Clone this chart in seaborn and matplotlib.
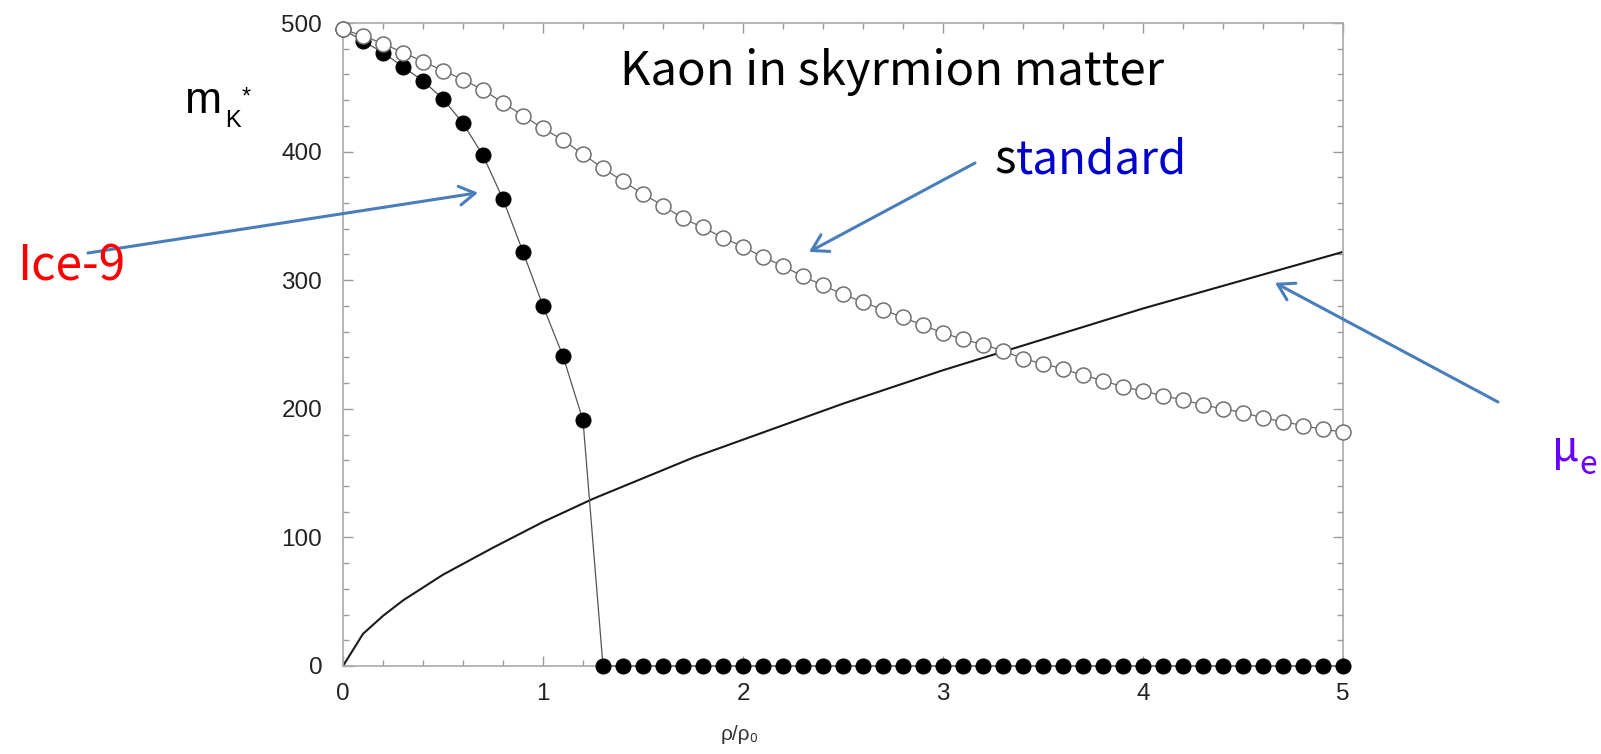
import matplotlib
matplotlib.use("Agg")
import matplotlib.pyplot as plt
from matplotlib.ticker import MultipleLocator
import seaborn as sns

# Figure size in pixels
W, H = 1601, 754

# Density grid rho/rho_0 of the two kaon mass curves
density = [
    0.0, 0.1, 0.2, 0.3, 0.4, 0.5, 0.6, 0.7, 0.8, 0.9,
    1.0, 1.1, 1.2, 1.3, 1.4, 1.5, 1.6, 1.7, 1.8, 1.9,
    2.0, 2.1, 2.2, 2.3, 2.4, 2.5, 2.6, 2.7, 2.8, 2.9,
    3.0, 3.1, 3.2, 3.3, 3.4, 3.5, 3.6, 3.7, 3.8, 3.9,
    4.0, 4.1, 4.2, 4.3, 4.4, 4.5, 4.6, 4.7, 4.8, 4.9,
    5.0,
]

# Kaon effective mass, "standard" skyrmion matter (open circles)
standard_mass = [
    495, 490, 484, 477, 470, 463, 456, 448, 438, 428,
    418, 409, 398, 387, 377, 367, 358, 348, 341, 333,
    326, 318, 311, 303, 296, 289, 283, 277, 271, 265,
    259, 254, 250, 245, 239, 235, 231, 226, 222, 217,
    214, 210, 207, 203, 200, 197, 193, 190, 187, 184,
    182,
]

# Kaon effective mass, "Ice-9" (filled circles), zero above rho ~ 1.3
ice9_mass = [
    495, 486, 477, 466, 455, 441, 422, 397, 363, 322,
    280, 241, 191,
] + [0] * 38

# Electron chemical potential mu_e
mu_e_density = [
    0.0, 0.1, 0.2, 0.3, 0.4, 0.5, 0.75, 1.0, 1.25, 1.5, 1.75, 2.0,
    2.25, 2.5, 2.75, 3.0, 3.25, 3.5, 3.75, 4.0, 4.25, 4.5, 4.75, 5.0,
]
mu_e_values = [
    0, 25, 39, 51, 61, 71, 92, 112, 130, 146, 162, 176,
    190, 204, 217, 230, 242, 254, 266, 278, 289, 300, 311, 322,
]

# Set seaborn plot style
sns.set_theme(style="ticks")
plt.rcParams["font.family"] = ["Liberation Sans", "DejaVu Sans"]

TEXT_FONT = ["Noto Sans CJK KR", "DejaVu Sans"]
ARROW_COLOR = "#4a7ebb"


def px(x, y):
    # Convert pixel position (origin top left) to figure fraction
    return x / W, 1 - y / H


def main():
    fig = plt.figure(figsize=(W / 100, H / 100), dpi=100)
    ax = fig.add_axes([343 / W, 1 - 666 / H, 1000 / W, 643 / H])

    # mu_e curve
    sns.lineplot(
        x=mu_e_density, y=mu_e_values, ax=ax,
        color="#1a1a1a", linewidth=1.5, zorder=2,
    )

    # Ice-9 kaon mass
    sns.lineplot(
        x=density, y=ice9_mass, ax=ax,
        color="#555555", linewidth=0.9, zorder=3,
        marker="o", markersize=10.8,
        markerfacecolor="black", markeredgecolor="black",
        clip_on=False,
    )

    # Standard kaon mass
    sns.lineplot(
        x=density, y=standard_mass, ax=ax,
        color="#666666", linewidth=0.9, zorder=4,
        marker="o", markersize=10.8,
        markerfacecolor="white", markeredgecolor="#707070",
        markeredgewidth=1.1, clip_on=False,
    )

    # Axes limits and ticks
    ax.set_xlim(0, 5)
    ax.set_ylim(0, 500)
    ax.xaxis.set_major_locator(MultipleLocator(1))
    ax.xaxis.set_minor_locator(MultipleLocator(0.2))
    ax.yaxis.set_major_locator(MultipleLocator(100))
    ax.yaxis.set_minor_locator(MultipleLocator(20))
    ax.tick_params(
        which="both", direction="in", top=True, right=True,
        color="#9a9a9a", width=1.0, labelcolor="#222222",
        labelsize=17.5,
    )
    ax.tick_params(which="major", length=7)
    ax.tick_params(which="minor", length=4.5)
    ax.tick_params(axis="y", pad=15)
    ax.tick_params(axis="x", pad=12)
    for spine in ax.spines.values():
        spine.set_color("#aaaaaa")
        spine.set_linewidth(1.2)

    ax.set_xlabel("ρ/ρ₀", fontsize=15, color="#333333")
    ax.xaxis.set_label_coords(0.397, -0.092)
    ax.set_ylabel("")

    # Axis label m_K^*
    m_text = fig.text(*px(185, 113), "m", fontsize=32, color="black",
                      va="baseline")
    k_text = ax.annotate("K", xy=(1, 0), xycoords=m_text, xytext=(2, -7),
                         textcoords="offset points", fontsize=17,
                         color="black", va="bottom", ha="left")
    ax.annotate("*", xy=(1, 1), xycoords=k_text, xytext=(1, 1),
                textcoords="offset points", fontsize=17,
                color="black", va="bottom", ha="left")

    # Title
    fig.text(*px(620, 85), "Kaon in skyrmion matter", fontsize=34,
             family=TEXT_FONT, color="black", va="baseline")

    # Ice-9 label
    fig.text(*px(17, 280), "Ice-9", fontsize=34.5, family=TEXT_FONT,
             color="#ff0000", va="baseline")

    # standard label: black "s" followed by blue "tandard"
    s_text = fig.text(*px(994, 173), "s", fontsize=33, family=TEXT_FONT,
                      color="black", va="baseline")
    ax.annotate("tandard", xy=(1, 0), xycoords=s_text, fontsize=33,
                family=TEXT_FONT, color="#0000cc", va="bottom", ha="left")

    # mu_e label
    mu_text = fig.text(*px(1552, 461), "μ", fontsize=31, family=TEXT_FONT,
                       color="#6a00ff", va="baseline")
    ax.annotate("e", xy=(1, 0), xycoords=mu_text, xytext=(0, -7),
                textcoords="offset points", fontsize=23, family=TEXT_FONT,
                color="#6a00ff", va="bottom", ha="left")

    # Arrows from the labels to the curves
    arrow_props = dict(
        arrowstyle="->,head_length=0.75,head_width=0.45",
        color=ARROW_COLOR, linewidth=2.2, mutation_scale=15,
        shrinkA=0, shrinkB=0,
    )
    arrows = [
        ((0.675, 368), (88, 253)),
        ((2.33, 322), (975, 163)),
        ((4.66, 298), (1498, 402)),
    ]
    for head, tail in arrows:
        ax.annotate(
            "", xy=head, xycoords="data",
            xytext=px(*tail), textcoords="figure fraction",
            arrowprops=arrow_props, annotation_clip=False,
        )

    fig.savefig("out.png", dpi=100)


if __name__ == "__main__":
    main()
